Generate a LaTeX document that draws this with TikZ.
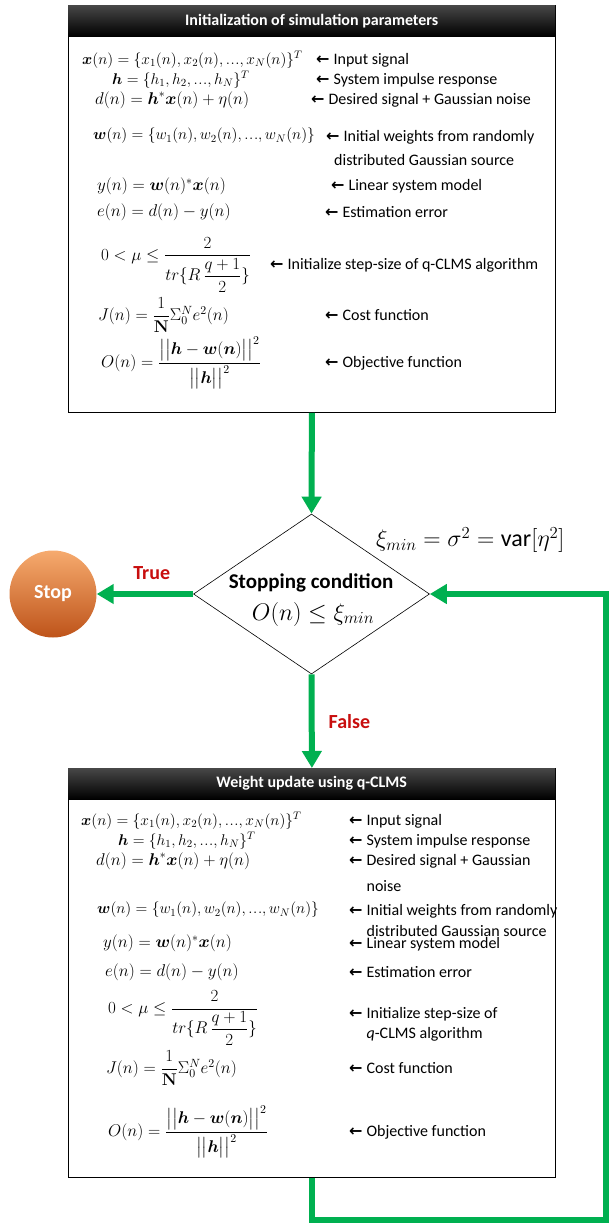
\RequirePackage{fix-cm}
\documentclass[tikz,border=0pt]{standalone}
\usepackage{amsmath}
\usepackage[no-math]{fontspec}
\setmainfont{Carlito}
\newfontfamily\arrowfont{DejaVu Sans}
\usetikzlibrary{arrows.meta,positioning,shapes.geometric,calc}
\definecolor{flowgreen}{RGB}{0,176,80}
\definecolor{labelred}{RGB}{200,14,14}
\definecolor{stoplight}{RGB}{246,170,110}
\definecolor{stopdark}{RGB}{190,84,26}
\newcommand{\lar}{{\arrowfont\bfseries ←}\hspace{4pt}}
\newcommand{\cm}{{,}\,}
\newcommand{\tdots}{.\kern0.6pt.\kern0.6pt.}
\newcommand{\fxInput}{$\boldsymbol{x}(n)=\{x_1(n)\cm x_2(n)\cm\tdots\cm x_N(n)\}^T$}
\newcommand{\fxImpulse}{$\boldsymbol{h}=\{h_1\cm h_2\cm\tdots\cm h_N\}^T$}
\newcommand{\fxDesired}{$d(n)=\boldsymbol{h}^{*}\boldsymbol{x}(n)+\eta(n)$}
\newcommand{\fxWeights}{$\boldsymbol{w}(n)=\{w_1(n)\cm w_2(n)\cm\tdots\cm w_N(n)\}$}
\newcommand{\fxModel}{$y(n)=\boldsymbol{w}(n)^{*}\boldsymbol{x}(n)$}
\newcommand{\fxError}{$e(n)=d(n)-y(n)$}
\newcommand{\fxStep}{$0<\mu\le\dfrac{2}{tr\{R\,\dfrac{q+1}{2}\}}$}
\newcommand{\fxCost}{$J(n)=\dfrac{1}{\mathbf{N}}\Sigma_0^N e^2(n)$}
\newcommand{\fxObjective}{$O(n)=\dfrac{\big|\big|\boldsymbol{h}-\boldsymbol{w}(\boldsymbol{n})\big|\big|^2}{\big|\big|\boldsymbol{h}\big|\big|^2}$}

\begin{document}
\begin{tikzpicture}[x=1pt, y=-1pt,
  font=\fontsize{16}{19}\selectfont,
  panel/.style={draw, line width=0.8pt, anchor=north west, minimum width=487pt,
    inner sep=0pt, fill=white},
  banner/.style={anchor=north west, minimum width=487pt, minimum height=31pt,
    inner sep=0pt, top color=black!72, bottom color=black, text=white,
    font=\fontsize{16}{19}\selectfont\bfseries},
  eqn/.style={anchor=west, inner sep=0pt, font=\fontsize{17}{20}\selectfont},
  eqnlist/.style={eqn, font=\fontsize{15.5}{18}\selectfont},
  lbl/.style={anchor=west, inner sep=0pt, align=left},
  decision/.style={diamond, draw, line width=0.6pt, minimum width=236pt,
    minimum height=160pt, inner sep=0pt},
  halt/.style={circle, minimum size=87pt, inner sep=0pt, top color=stoplight,
    bottom color=stopdark, text=white, font=\fontsize{20}{24}\selectfont\bfseries},
  arr/.style={-{Triangle[width=19pt, length=17pt]}, line width=6pt, flowgreen},
  verdict/.style={text=labelred, font=\fontsize{20}{24}\selectfont\bfseries, inner sep=0pt},
  bigmath/.style={inner sep=0pt, font=\fontsize{24}{28}\selectfont}
]
  \useasboundingbox (0,0) rectangle (609,1223);

  % initialization panel
  \node[panel, minimum height=407pt] (init) at (68,5) {};
  \node[banner] (inittitle) at (init.north west) {Initialization of simulation parameters};

  \node[eqnlist] (ix1) at (82,60) {\fxInput};
  \node[eqnlist] (ix2) at (112,80) {\fxImpulse};
  \node[eqn] (ix3) at (95,100) {\fxDesired};
  \node[eqnlist] (ix4) at (93,136) {\fxWeights};
  \node[eqn] (ix5) at (97,186) {\fxModel};
  \node[eqn] (ix6) at (97,212) {\fxError};
  \node[eqn] (ix7) at (101,265) {\fxStep};
  \node[eqn] (ix8) at (98,315) {\fxCost};
  \node[eqn] (ix9) at (101,363) {\fxObjective};

  \node[lbl] (il1) at (316,60) {\lar Input signal};
  \node[lbl] (il2) at (316,80) {\lar System impulse response};
  \node[lbl] (il3) at (311,100) {\lar Desired signal + Gaussian noise};
  \node[lbl, font=\fontsize{16}{24}\selectfont] (il4) at (326,148)
    {\lar Initial weights from randomly\\\hspace*{8pt}distributed Gaussian source};
  \node[lbl] (il5) at (331,186) {\lar Linear system model};
  \node[lbl] (il6) at (325,212) {\lar Estimation error};
  \node[lbl] (il7) at (270,265) {\lar Initialize step-size of q-CLMS algorithm};
  \node[lbl] (il8) at (325,315) {\lar Cost function};
  \node[lbl] (il9) at (325,363) {\lar Objective function};

  % stopping test
  \node[decision] (cond) at (311.5,594) {};
  \node[inner sep=0pt, font=\fontsize{21}{25}\selectfont\bfseries] (condtitle) at (311,583) {Stopping condition};
  \node[bigmath] (condeq) at (313,614) {$O(n)\le\xi_{min}$};
  \node[bigmath, anchor=west] (ximin) at (376,540) {$\xi_{min}=\sigma^2=\text{var}[\eta^2]$};
  \node[halt] (stop) at (53,594) {Stop};

  % weight update panel
  \node[panel, minimum height=409pt] (upd) at (68,768) {};
  \node[banner] (updtitle) at (upd.north west) {Weight update using q-CLMS};

  \node[eqnlist] (ux1) at (81,821) {\fxInput};
  \node[eqnlist] (ux2) at (118,841) {\fxImpulse};
  \node[eqn] (ux3) at (96,861) {\fxDesired};
  \node[eqnlist] (ux4) at (97,910) {\fxWeights};
  \node[eqn] (ux5) at (103,943) {\fxModel};
  \node[eqn] (ux6) at (105,972) {\fxError};
  \node[eqn] (ux7) at (108,1018) {\fxStep};
  \node[eqn] (ux8) at (106,1068) {\fxCost};
  \node[eqn] (ux9) at (108,1132) {\fxObjective};

  \node[lbl] (ul1) at (349,821) {\lar Input signal};
  \node[lbl] (ul2) at (349,841) {\lar System impulse response};
  \node[lbl, font=\fontsize{16}{26}\selectfont] (ul3) at (349,873)
    {\lar Desired signal + Gaussian\\\phantom{\lar}noise};
  \node[lbl, font=\fontsize{16}{21}\selectfont] (ul4) at (349,920)
    {\lar Initial weights from randomly\\\phantom{\lar}distributed Gaussian source};
  \node[lbl] (ul5) at (349,944) {\lar Linear system model};
  \node[lbl] (ul6) at (349,972) {\lar Estimation error};
  \node[lbl, font=\fontsize{16}{20}\selectfont] (ul7) at (349,1024)
    {\lar Initialize step-size of\\\phantom{\lar}\textit{q}-CLMS algorithm};
  \node[lbl] (ul8) at (349,1068) {\lar Cost function};
  \node[lbl] (ul9) at (349,1132) {\lar Objective function};

  % flow
  \coordinate (corner) at (606,1220);
  \draw[arr] (init.south) -- (cond.north);
  \draw[arr] (cond.west) -- (stop.east) node[verdict, pos=0.43, above=11pt] {True};
  \draw[arr] (cond.south) -- (upd.north) node[verdict, midway, right=14pt] {False};
  \draw[arr] (upd.south) |- (corner) |- (cond.east);
\end{tikzpicture}
\end{document}
